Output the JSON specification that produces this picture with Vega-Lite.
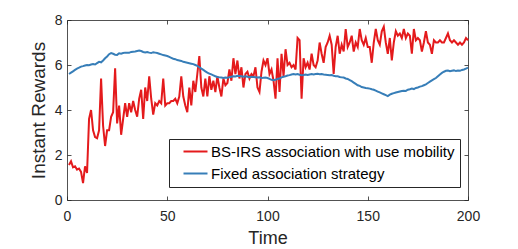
{
"$schema": "https://vega.github.io/schema/vega-lite/v6.json",
"autosize": "none",
"width": 401,
"height": 180,
"padding": {"left": 67, "top": 20, "right": 50, "bottom": 49},
"background": "white",
"config": {
  "view": {"stroke": null},
  "font": "Liberation Sans",
  "axis": {"grid": false, "domainColor": "#262626", "domainWidth": 0.8, "tickColor": "#262626", "tickWidth": 0.8, "tickSize": -4, "labelColor": "#262626", "labelFontSize": 14, "labelFont": "Liberation Sans", "titleFont": "Liberation Sans", "titleFontSize": 18, "titleFontWeight": "normal", "titleColor": "#262626", "labelFlush": false, "labelOverlap": false}
},
"data": {"values": [
{"t":1,"a":1.56,"b":5.60},{"t":2,"a":1.72,"b":5.66},{"t":3,"a":1.45,"b":5.72},{"t":4,"a":1.5,"b":5.78},{"t":5,"a":1.35,"b":5.84},
{"t":6,"a":1.4,"b":5.88},{"t":7,"a":1.25,"b":5.93},{"t":8,"a":0.75,"b":5.95},{"t":9,"a":1.5,"b":5.98},{"t":10,"a":1.2,"b":6.00},
{"t":11,"a":3.6,"b":5.99},{"t":12,"a":4.0,"b":6.02},{"t":13,"a":3.1,"b":6.04},{"t":14,"a":2.8,"b":6.02},{"t":15,"a":2.75,"b":6.08},
{"t":16,"a":3.1,"b":6.14},{"t":17,"a":5.4,"b":6.12},{"t":18,"a":3.3,"b":6.20},{"t":19,"a":2.4,"b":6.30},{"t":20,"a":3.1,"b":6.38},
{"t":21,"a":3.1,"b":6.48},{"t":22,"a":3.7,"b":6.53},{"t":23,"a":3.9,"b":6.50},{"t":24,"a":5.85,"b":6.46},{"t":25,"a":3.4,"b":6.45},
{"t":26,"a":4.2,"b":6.52},{"t":27,"a":2.9,"b":6.50},{"t":28,"a":3.6,"b":6.53},{"t":29,"a":4.3,"b":6.55},{"t":30,"a":3.7,"b":6.55},
{"t":31,"a":4.3,"b":6.54},{"t":32,"a":3.9,"b":6.58},{"t":33,"a":4.4,"b":6.59},{"t":34,"a":4.0,"b":6.60},{"t":35,"a":3.7,"b":6.62},
{"t":36,"a":4.5,"b":6.64},{"t":37,"a":4.9,"b":6.62},{"t":38,"a":3.6,"b":6.58},{"t":39,"a":5.0,"b":6.56},{"t":40,"a":4.4,"b":6.58},
{"t":41,"a":5.5,"b":6.55},{"t":42,"a":4.5,"b":6.53},{"t":43,"a":3.8,"b":6.57},{"t":44,"a":4.3,"b":6.55},{"t":45,"a":4.2,"b":6.53},
{"t":46,"a":4.4,"b":6.50},{"t":47,"a":4.3,"b":6.47},{"t":48,"a":5.4,"b":6.44},{"t":49,"a":4.2,"b":6.42},{"t":50,"a":4.3,"b":6.40},
{"t":51,"a":4.3,"b":6.36},{"t":52,"a":4.4,"b":6.32},{"t":53,"a":4.4,"b":6.28},{"t":54,"a":4.5,"b":6.26},{"t":55,"a":4.3,"b":6.22},
{"t":56,"a":4.6,"b":6.20},{"t":57,"a":5.5,"b":6.18},{"t":58,"a":4.6,"b":6.14},{"t":59,"a":4.2,"b":6.12},{"t":60,"a":3.9,"b":6.10},
{"t":61,"a":5.0,"b":6.08},{"t":62,"a":4.2,"b":6.06},{"t":63,"a":5.3,"b":6.04},{"t":64,"a":4.8,"b":6.00},{"t":65,"a":5.6,"b":5.96},
{"t":66,"a":6.4,"b":5.90},{"t":67,"a":5.0,"b":5.84},{"t":68,"a":4.6,"b":5.78},{"t":69,"a":5.4,"b":5.72},{"t":70,"a":4.6,"b":5.66},
{"t":71,"a":5.5,"b":5.62},{"t":72,"a":4.9,"b":5.58},{"t":73,"a":5.3,"b":5.54},{"t":74,"a":4.8,"b":5.50},{"t":75,"a":5.5,"b":5.47},
{"t":76,"a":5.0,"b":5.45},{"t":77,"a":4.6,"b":5.44},{"t":78,"a":5.4,"b":5.42},{"t":79,"a":5.1,"b":5.44},{"t":80,"a":5.2,"b":5.43},
{"t":81,"a":5.8,"b":5.46},{"t":82,"a":5.3,"b":5.48},{"t":83,"a":6.3,"b":5.50},{"t":84,"a":5.6,"b":5.49},{"t":85,"a":6.2,"b":5.52},
{"t":86,"a":5.4,"b":5.51},{"t":87,"a":5.9,"b":5.50},{"t":88,"a":5.0,"b":5.48},{"t":89,"a":5.6,"b":5.50},{"t":90,"a":5.7,"b":5.48},
{"t":91,"a":5.4,"b":5.46},{"t":92,"a":5.6,"b":5.48},{"t":93,"a":5.5,"b":5.47},{"t":94,"a":5.9,"b":5.46},{"t":95,"a":5.0,"b":5.44},
{"t":96,"a":4.8,"b":5.45},{"t":97,"a":5.7,"b":5.42},{"t":98,"a":6.2,"b":5.43},{"t":99,"a":6.0,"b":5.44},{"t":100,"a":6.3,"b":5.42},
{"t":101,"a":5.6,"b":5.38},{"t":102,"a":5.8,"b":5.34},{"t":103,"a":5.3,"b":5.32},{"t":104,"a":4.5,"b":5.34},{"t":105,"a":6.3,"b":5.38},
{"t":106,"a":4.8,"b":5.40},{"t":107,"a":6.5,"b":5.45},{"t":108,"a":5.5,"b":5.48},{"t":109,"a":6.7,"b":5.50},{"t":110,"a":6.0,"b":5.53},
{"t":111,"a":6.1,"b":5.55},{"t":112,"a":5.9,"b":5.58},{"t":113,"a":6.0,"b":5.60},{"t":114,"a":5.8,"b":5.58},{"t":115,"a":7.2,"b":5.60},
{"t":116,"a":7.1,"b":5.57},{"t":117,"a":4.5,"b":5.55},{"t":118,"a":6.3,"b":5.56},{"t":119,"a":5.9,"b":5.58},{"t":120,"a":6.1,"b":5.56},
{"t":121,"a":5.8,"b":5.58},{"t":122,"a":6.5,"b":5.60},{"t":123,"a":6.0,"b":5.58},{"t":124,"a":5.9,"b":5.60},{"t":125,"a":6.2,"b":5.61},
{"t":126,"a":7.0,"b":5.59},{"t":127,"a":6.5,"b":5.60},{"t":128,"a":6.1,"b":5.58},{"t":129,"a":6.8,"b":5.57},{"t":130,"a":7.0,"b":5.56},
{"t":131,"a":7.3,"b":5.54},{"t":132,"a":6.9,"b":5.55},{"t":133,"a":5.6,"b":5.52},{"t":134,"a":6.8,"b":5.50},{"t":135,"a":7.3,"b":5.50},
{"t":136,"a":6.5,"b":5.47},{"t":137,"a":6.9,"b":5.45},{"t":138,"a":6.6,"b":5.44},{"t":139,"a":7.6,"b":5.40},{"t":140,"a":6.8,"b":5.38},
{"t":141,"a":7.0,"b":5.33},{"t":142,"a":7.3,"b":5.28},{"t":143,"a":6.6,"b":5.22},{"t":144,"a":7.0,"b":5.16},{"t":145,"a":6.8,"b":5.10},
{"t":146,"a":7.6,"b":5.07},{"t":147,"a":7.1,"b":5.02},{"t":148,"a":6.9,"b":5.00},{"t":149,"a":7.2,"b":4.98},{"t":150,"a":6.8,"b":4.97},
{"t":151,"a":6.8,"b":4.95},{"t":152,"a":6.1,"b":4.92},{"t":153,"a":7.0,"b":4.90},{"t":154,"a":7.6,"b":4.86},{"t":155,"a":7.1,"b":4.82},
{"t":156,"a":6.9,"b":4.78},{"t":157,"a":7.5,"b":4.74},{"t":158,"a":7.7,"b":4.70},{"t":159,"a":7.0,"b":4.66},{"t":160,"a":6.5,"b":4.62},
{"t":161,"a":7.2,"b":4.68},{"t":162,"a":6.2,"b":4.72},{"t":163,"a":7.0,"b":4.75},{"t":164,"a":7.5,"b":4.78},{"t":165,"a":7.3,"b":4.80},
{"t":166,"a":7.4,"b":4.82},{"t":167,"a":7.2,"b":4.84},{"t":168,"a":7.6,"b":4.86},{"t":169,"a":7.2,"b":4.85},{"t":170,"a":7.4,"b":4.90},
{"t":171,"a":7.3,"b":4.92},{"t":172,"a":6.5,"b":4.95},{"t":173,"a":7.6,"b":4.93},{"t":174,"a":7.1,"b":4.98},{"t":175,"a":7.2,"b":5.00},
{"t":176,"a":7.1,"b":5.04},{"t":177,"a":6.6,"b":5.06},{"t":178,"a":7.0,"b":5.10},{"t":179,"a":7.5,"b":5.14},{"t":180,"a":7.0,"b":5.20},
{"t":181,"a":6.9,"b":5.26},{"t":182,"a":6.5,"b":5.32},{"t":183,"a":7.1,"b":5.37},{"t":184,"a":7.0,"b":5.42},{"t":185,"a":7.0,"b":5.50},
{"t":186,"a":7.1,"b":5.58},{"t":187,"a":7.0,"b":5.65},{"t":188,"a":7.0,"b":5.70},{"t":189,"a":7.2,"b":5.74},{"t":190,"a":7.4,"b":5.75},
{"t":191,"a":7.1,"b":5.72},{"t":192,"a":7.0,"b":5.74},{"t":193,"a":7.1,"b":5.76},{"t":194,"a":7.0,"b":5.73},{"t":195,"a":6.9,"b":5.75},
{"t":196,"a":7.0,"b":5.74},{"t":197,"a":6.9,"b":5.78},{"t":198,"a":7.0,"b":5.80},{"t":199,"a":7.2,"b":5.84},{"t":200,"a":7.1,"b":5.88}
]},
"transform": [{"fold": ["a", "b"], "as": ["series", "v"]}],
"resolve": {"axis": {"x": "independent", "y": "independent"}},
"layer": [
  {
    "mark": {"type": "line", "strokeWidth": 2},
    "encoding": {
      "x": {"field": "t", "type": "quantitative", "scale": {"domain": [0, 200], "nice": false}, "axis": {"orient": "bottom", "values": [0, 50, 100, 150, 200], "title": "Time", "labelPadding": 13, "titlePadding": 6}},
      "y": {"field": "v", "type": "quantitative", "scale": {"domain": [0, 8], "nice": false}, "axis": {"orient": "left", "values": [0, 2, 4, 6, 8], "title": "Instant Rewards", "titleFontSize": 19, "labelPadding": 9, "titlePadding": 6}},
      "color": {"field": "series", "type": "nominal", "scale": {"domain": ["a", "b"], "range": ["#e41a1c", "#377eb8"]},
        "legend": {"title": null, "orient": "none", "legendX": 102, "legendY": 119, "direction": "vertical", "symbolType": "M-2,0H2", "symbolSize": 144, "symbolStrokeWidth": 2, "labelFontSize": 15, "labelFont": "Liberation Sans", "labelColor": "#000000", "labelLimit": 400, "strokeColor": "#262626", "fillColor": "white", "padding": 5, "symbolOffset": 14, "labelOffset": 8, "rowPadding": 6,
          "labelExpr": "datum.label == 'a' ? 'BS-IRS association with use mobility' : 'Fixed association strategy'"}}
    }
  },
  {
    "mark": {"type": "line", "strokeOpacity": 0},
    "encoding": {
      "x": {"field": "t", "type": "quantitative", "axis": {"orient": "top", "values": [0, 50, 100, 150, 200], "labels": false, "title": null}},
      "y": {"field": "v", "type": "quantitative", "axis": {"orient": "right", "values": [0, 2, 4, 6, 8], "labels": false, "title": null}},
      "detail": {"field": "series"}
    }
  }
]
}
